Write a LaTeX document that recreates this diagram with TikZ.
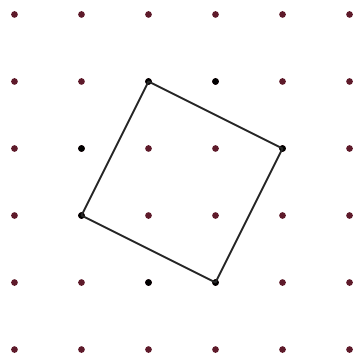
\documentclass[tikz,border=0pt]{standalone}
\usetikzlibrary{calc}
\definecolor{dotred}{HTML}{5E1A2A}
\def\GridMax{5}
\def\BlackDots{2/1,3/1,1/2,4/2,1/3,2/4,3/4}

\begin{document}
\begin{tikzpicture}[
  x=1cm, y=-1cm, line cap=round, line join=round,
  gridpt/.style ={circle, fill=dotred, inner sep=0pt, minimum size=0.1cm},
  markpt/.style ={circle, fill=black, inner sep=0pt, minimum size=0.1cm},
  side/.style   ={black!85, line width=0.8pt}
]
\useasboundingbox (-0.216,-0.216) rectangle (5.142,5.201);

% --- Lattice points ----------------------------------------------------
\foreach \i in {0,...,\GridMax}
  \foreach \j in {0,...,\GridMax}
    \node[gridpt] (p-\i-\j) at (\i,\j) {};

% --- Points used in the construction (drawn black) -------------------
\foreach \i/\j in \BlackDots
  \node[markpt] at (p-\i-\j) {};

% --- The tilted square ------------------------------------------------
\draw[side] (p-2-1.center) -- (p-4-2.center) -- (p-3-4.center)
  -- (p-1-3.center) -- cycle;

\end{tikzpicture}
\end{document}
